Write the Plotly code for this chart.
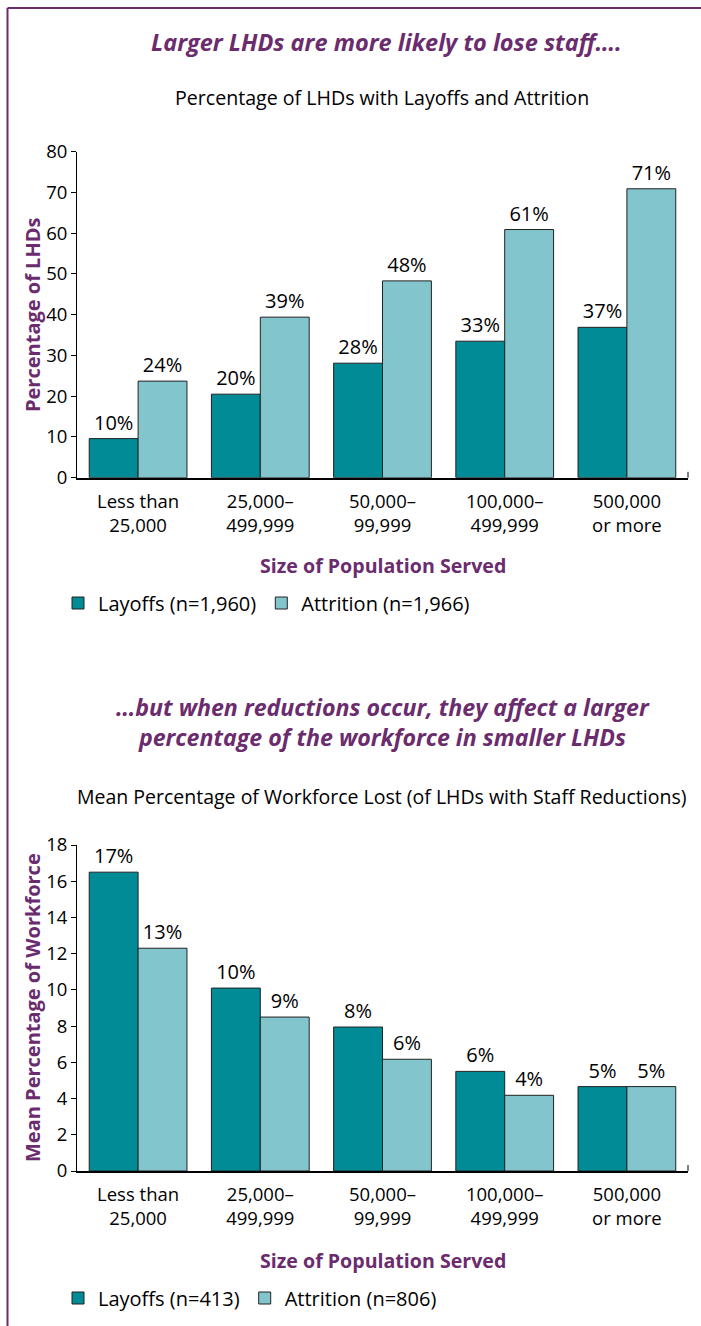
import plotly.graph_objects as go

# ---- data ----
categories = ["Less than<br>25,000", "25,000–<br>499,999", "50,000–<br>99,999",
              "100,000–<br>499,999", "500,000<br>or more"]
layoffs_pct = [9.6, 20.5, 28.1, 33.5, 36.9]
attrition_pct = [23.7, 39.4, 48.3, 60.9, 70.9]
layoffs_pct_labels = ["10%", "20%", "28%", "33%", "37%"]
attrition_pct_labels = ["24%", "39%", "48%", "61%", "71%"]
layoffs_mean = [16.5, 10.1, 7.95, 5.5, 4.66]
attrition_mean = [12.3, 8.5, 6.17, 4.18, 4.66]
layoffs_mean_labels = ["17%", "10%", "8%", "6%", "5%"]
attrition_mean_labels = ["13%", "9%", "6%", "4%", "5%"]
legend1_names = ["Layoffs (n=1,960)", "Attrition (n=1,966)"]
legend2_names = ["Layoffs (n=413)", "Attrition (n=806)"]
y1_ticks = [0, 10, 20, 30, 40, 50, 60, 70, 80]
y2_ticks = [0, 2, 4, 6, 8, 10, 12, 14, 16, 18]

# ---- style ----
FONT = "Open Sans"
DARK = "#008b96"
LIGHT = "#82c5cc"
PURPLE = "#6b2c6e"
OUTLINE = "#222222"
W, H = 701, 1326


def py(px):
    return 1 - px / H


fig = go.Figure()


def add_bars(x, y, text, name, color, xa, ya, leg):
    fig.add_trace(go.Bar(
        x=x, y=y, text=text, name=name, xaxis=xa, yaxis=ya, legend=leg,
        marker=dict(color=color, line=dict(color=OUTLINE, width=1)),
        textposition="outside", cliponaxis=False,
        textfont=dict(family=FONT, size=20, color="black"),
        hoverinfo="skip",
    ))


add_bars(categories, layoffs_pct, layoffs_pct_labels, legend1_names[0], DARK, "x", "y", "legend")
add_bars(categories, attrition_pct, attrition_pct_labels, legend1_names[1], LIGHT, "x", "y", "legend")
add_bars(categories, layoffs_mean, layoffs_mean_labels, legend2_names[0], DARK, "x2", "y2", "legend2")
add_bars(categories, attrition_mean, attrition_mean_labels, legend2_names[1], LIGHT, "x2", "y2", "legend2")

xdom = [77 / W, 688 / W]
axis_font = dict(family=FONT, size=18.5, color="black")
xcommon = dict(domain=xdom, showline=True, linecolor="black", linewidth=1.5,
               ticks="", tickfont=axis_font, showgrid=False, zeroline=False,
               fixedrange=True, automargin=False, ticklabelstandoff=6)
ycommon = dict(showline=True, linecolor="black", linewidth=1, ticks="outside",
               ticklen=5, tickcolor="black", tickfont=axis_font, showgrid=False,
               zeroline=False, fixedrange=True, automargin=False)

legend_common = dict(orientation="h", xanchor="left", yanchor="middle",
                     font=dict(family=FONT, size=20, color="black"),
                     bgcolor="rgba(0,0,0,0)", traceorder="normal")

fig.update_layout(
    width=W, height=H, margin=dict(l=0, r=0, t=0, b=0, autoexpand=False),
    paper_bgcolor="white", plot_bgcolor="white",
    barmode="group", bargap=0.2, bargroupgap=0,
    font=dict(family=FONT, color="black"),
    xaxis=dict(anchor="y", **xcommon),
    xaxis2=dict(anchor="y2", **xcommon),
    yaxis=dict(anchor="x", domain=[py(477.7), py(151.7)], range=[0, 80],
               tickvals=y1_ticks, **ycommon),
    yaxis2=dict(anchor="x2", domain=[py(1171), py(845)], range=[0, 18],
                tickvals=y2_ticks, **ycommon),
    legend=dict(x=58 / W, y=py(603), **legend_common),
    legend2=dict(x=58 / W, y=py(1298), **legend_common),
    showlegend=True,
)


def ann(text, x, y, size, color="black", bold=False, italic=False, angle=0):
    t = text
    if bold:
        t = "<b>" + t + "</b>"
    if italic:
        t = "<i>" + t + "</i>"
    fig.add_annotation(text=t, x=x / W, y=py(y), xref="paper", yref="paper",
                       showarrow=False, xanchor="center", yanchor="middle",
                       textangle=angle,
                       font=dict(family=FONT, size=size, color=color))


ann("Larger LHDs are more likely to lose staff….", 386, 42, 23.5, PURPLE, True, True)
ann("Percentage of LHDs with Layoffs and Attrition", 382, 98, 19.6)
ann("Percentage of LHDs", 32, 315, 20, PURPLE, True, angle=-90)
ann("Size of Population Served", 383, 565, 19.6, PURPLE, True)
ann("<b><i>…but when reductions occur, they affect a larger</i></b><br>"
    "<b><i>percentage of the workforce in smaller LHDs</i></b>", 383, 722, 23.2, PURPLE)
ann("Mean Percentage of Workforce Lost (of LHDs with Staff Reductions)", 382, 796, 19.5)
ann("Mean Percentage of Workforce", 32, 1008, 20, PURPLE, True, angle=-90)
ann("Size of Population Served", 383, 1260, 19.6, PURPLE, True)

# frame
fig.add_shape(type="line", xref="paper", yref="paper", x0=7.5 / W, x1=1, y0=py(8), y1=py(8),
              line=dict(color=PURPLE, width=2))
fig.add_shape(type="line", xref="paper", yref="paper", x0=7.5 / W, x1=7.5 / W, y0=0, y1=py(8),
              line=dict(color=PURPLE, width=2))
# small end ticks on x axes
for xr, yr in (("x domain", "y domain"), ("x2 domain", "y2 domain")):
    fig.add_shape(type="line", xref=xr, yref=yr, x0=1, x1=1, y0=0, y1=0.018,
                  line=dict(color="black", width=1))

fig.write_html("out.html", config={"displayModeBar": False},
               post_script="document.body.style.margin='0';document.body.style.overflow='hidden';")
